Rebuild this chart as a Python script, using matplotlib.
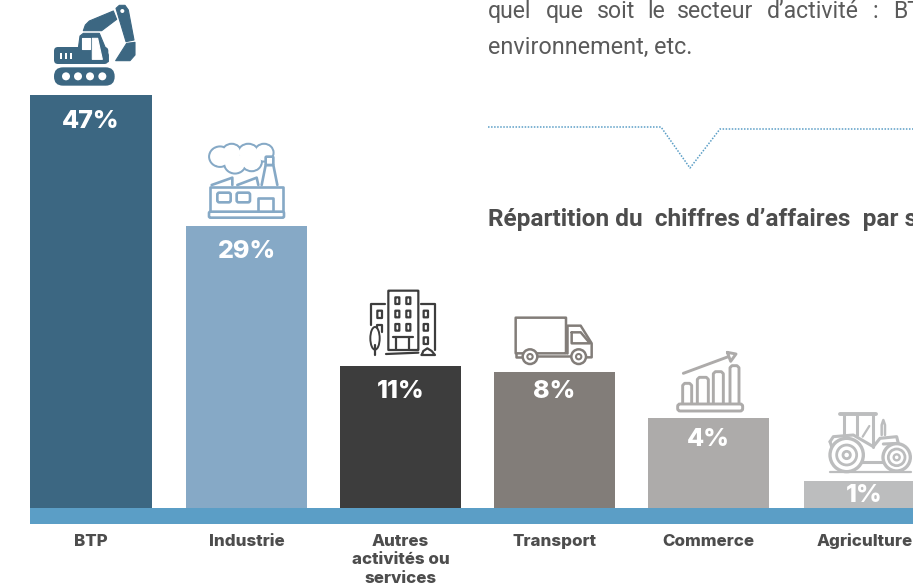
import matplotlib
matplotlib.use('Agg')
import matplotlib.pyplot as plt
from matplotlib.patches import Circle, Ellipse, FancyBboxPatch, Polygon, Rectangle

categories = ['BTP', 'Industrie', 'Autres\nactivités ou\nservices', 'Transport', 'Commerce', 'Agriculture']
shares = [47, 29, 11, 8, 4, 1]
# bars are not proportional in the original, so the drawn heights are read separately
bar_heights = [413, 282, 142, 136, 90, 27]
bar_centers = [91, 246.5, 400.5, 554.5, 708.5, 864.5]
label_offsets = [26, 25, 26, 20, 21, 15]
colors = ['#3c6782', '#86a9c6', '#3d3d3d', '#827d79', '#adabaa', '#bcbdbe']
line1_words = ['quel', 'que', 'soit', 'le', 'secteur', 'd’activité', ':', 'BTP,']
line1_x = [488, 546, 597, 647, 677, 767, 873, 893]

BASE = 508
BAND = '#5b9ec6'
TEXT = '#4d4d4d'
BODY = '#5a5a5a'

fig = plt.figure(figsize=(9.13, 5.87), dpi=100)
ax = fig.add_axes([0, 0, 1, 1])
ax.set_xlim(0, 913)
ax.set_ylim(587, 0)
ax.axis('off')


def line(pts, color, lw=1.6, ox=0, oy=0):
    # icon coordinates come from 3x crops, hence the /3
    ax.plot([ox + p[0] / 3 for p in pts], [oy + p[1] / 3 for p in pts], color=color, lw=lw,
            solid_capstyle='round', solid_joinstyle='round', zorder=4)


def box(x0, y0, x1, y1, color, ox=0, oy=0, lw=1.6, fill='white', r=1.0):
    ax.add_patch(FancyBboxPatch((ox + x0 / 3, oy + y0 / 3), (x1 - x0) / 3, (y1 - y0) / 3,
                                boxstyle=f'round,pad=0,rounding_size={r}', fc=fill, ec=color, lw=lw, zorder=4))


def poly(pts, color, ox=0, oy=0):
    ax.add_patch(Polygon([(ox + p[0] / 3, oy + p[1] / 3) for p in pts], closed=True, fc=color, ec=color,
                         lw=0.8, joinstyle='round', zorder=4))


def ring(x, y, r, color, ox=0, oy=0, lw=1.6, fill='white'):
    ax.add_patch(Circle((ox + x / 3, oy + y / 3), r / 3, fc=fill, ec=color, lw=lw, zorder=5))


def excavator(c):
    box(162, 202, 344, 257, c, fill=c, lw=0, r=9)
    for x in [198, 234, 270, 307]:
        ring(x, 229, 12, 'white', lw=0)
    box(162, 141, 325, 192, c, fill=c, lw=0, r=4)
    poly([(235, 145), (240, 108), (250, 100), (298, 100), (325, 165), (325, 185), (235, 185)], c)
    poly([(245, 115), (270, 115), (270, 148), (245, 148)], 'white')
    poly([(277, 115), (293, 115), (307, 178), (277, 178)], 'white')
    for x in [183, 198, 214]:
        ax.add_patch(Rectangle((x / 3 - 1, 158 / 3), 2, 20 / 3, fc='white', ec='none', zorder=5))
    poly([(250, 92), (256, 75), (268, 63), (340, 33), (350, 58), (305, 92)], c)
    poly([(348, 25), (358, 16), (375, 16), (385, 30), (402, 120), (378, 125)], c)
    ring(367, 33, 6, 'white', lw=0)
    poly([(380, 130), (405, 127), (405, 165), (390, 182), (347, 182)], c)


def factory(c):
    lobes = [(660, 470, 32, 30), (695, 458, 28, 26), (745, 458, 30, 26),
             (792, 458, 28, 26), (705, 490, 32, 30), (755, 485, 30, 28)]
    for x, y, rx, ry in lobes:
        ax.add_patch(Ellipse((x / 3, y / 3), 2 * rx / 3, 2 * ry / 3, fc='white', ec=c, lw=1.8, zorder=3))
    for x, y, rx, ry in lobes:
        ax.add_patch(Ellipse((x / 3, y / 3), 2 * rx / 3 - 1.6, 2 * ry / 3 - 1.6, fc='white', ec='none', zorder=3.1))
    line([(785, 555), (797, 495), (820, 495), (832, 555)], c, 1.9)
    box(797, 470, 820, 495, c, lw=1.9)
    line([(630, 635), (630, 560), (848, 560), (848, 635)], c, 1.9)
    line([(635, 555), (697, 533), (697, 555)], c, 1.9)
    line([(712, 555), (770, 533), (775, 555)], c, 1.9)
    box(652, 578, 692, 607, c, lw=1.9, r=2)
    box(710, 578, 750, 607, c, lw=1.9, r=2)
    line([(775, 635), (775, 595), (820, 595), (820, 635)], c, 1.9)
    box(627, 635, 852, 653, c, lw=1.9, r=1.5)


def buildings(c):
    o = (340, 270)
    box(145, 62, 235, 240, c, *o, r=0.4)
    for x in [172, 205]:
        for y in [92, 132, 172]:
            box(x - 6, y - 10, x + 6, y + 10, c, *o, r=0.3)
    line([(158, 202), (220, 202)], c, 1.6, *o)
    line([(168, 202), (168, 238)], c, 1.6, *o)
    line([(207, 202), (207, 238)], c, 1.6, *o)
    line([(92, 165), (92, 103), (135, 103)], c, 1.6, *o)
    box(112, 122, 126, 144, c, *o, r=0.3)
    line([(112, 180), (112, 165), (126, 165), (126, 185)], c, 1.6, *o)
    line([(242, 103), (285, 103), (285, 240)], c, 1.6, *o)
    for y in [132, 172, 212]:
        box(251, y - 10, 264, y + 10, c, *o, r=0.3)
    ax.add_patch(Ellipse((o[0] + 105 / 3, o[1] + 205 / 3), 28 / 3, 68 / 3, fc='white', ec=c, lw=1.4, zorder=4))
    line([(105, 225), (105, 255)], c, 1.6, *o)
    line([(138, 252), (235, 248)], c, 1.6, *o)
    line([(245, 255), (250, 243), (262, 235), (275, 243), (285, 255), (245, 255)], c, 1.6, *o)


def truck(c):
    o = (340, 270)
    box(527, 143, 678, 250, c, *o, lw=1.8, r=0.3)
    line([(527, 250), (527, 262), (548, 262)], c, 1.8, *o)
    line([(592, 258), (692, 258)], c, 1.8, *o)
    line([(682, 167), (722, 167), (755, 220), (755, 262), (738, 262)], c, 1.8, *o)
    line([(682, 167), (682, 250)], c, 1.8, *o)
    line([(695, 187), (722, 187), (750, 220), (695, 220), (695, 187)], c, 1.8, *o)
    for x in [570, 716]:
        ring(x, 260, 22, c, *o, lw=1.8)
        ring(x, 260, 8, c, *o, lw=1.5)


def growth(c):
    o = (640, 340)
    for x0, x1, top in [(128, 155, 130), (172, 205, 112), (220, 250, 95), (270, 297, 77)]:
        line([(x0, 192), (x0, top + 6), (x0 + 6, top), (x1 - 6, top), (x1, top + 6), (x1, 192)], c, 2.1, *o)
    box(113, 192, 308, 213, c, *o, lw=2.1, r=2.5)
    line([(130, 100), (265, 50)], c, 2.1, *o)
    line([(262, 37), (288, 42), (272, 64), (262, 37)], c, 2.1, *o)


def tractor(c):
    o = (640, 340)
    line([(600, 222), (708, 222)], c, 2.8, *o)
    line([(612, 225), (612, 285)], c, 2.2, *o)
    line([(650, 225), (650, 285)], c, 2.2, *o)
    line([(700, 225), (700, 320)], c, 2.2, *o)
    line([(668, 290), (688, 258)], c, 1.6, *o)
    line([(570, 305), (580, 290), (640, 285), (700, 320), (720, 295), (770, 290), (775, 310), (730, 312)], c, 2.2, *o)
    line([(570, 305), (575, 320)], c, 2.2, *o)
    line([(725, 285), (725, 255), (730, 240), (735, 255), (735, 285)], c, 1.8, *o)
    line([(665, 365), (730, 365)], c, 2.2, *o)
    ring(620, 345, 50, c, *o, lw=2.4)
    ring(620, 345, 30, c, *o, lw=2)
    ring(620, 345, 11, c, *o, lw=2)
    ring(770, 352, 41, c, *o, lw=2.4)
    ring(770, 352, 25, c, *o, lw=2)
    ring(770, 352, 9, c, *o, lw=1.7)
    line([(570, 397), (812, 397)], c, 1.6, *o)


# bars and bottom band
tops = [BASE - h for h in bar_heights]
ax.bar(bar_centers, bar_heights, bottom=tops, width=121.5, color=colors, zorder=2)
ax.add_patch(Rectangle((30, BASE), 883, 16, fc=BAND, ec='none', zorder=3))

for x, top, off, share in zip(bar_centers, tops, label_offsets, shares):
    ax.text(x, top + off, f'{share}%', color='white', ha='center', va='center', fontsize=18,
            family='Inter', fontweight='heavy', zorder=6)

# each line on its own baseline, va='top' shifts with the glyphs of the word
for x, label in zip(bar_centers, categories):
    for i, part in enumerate(label.split('\n')):
        ax.text(x, 546 + i * 18.5, part, color=TEXT, ha='center', va='baseline', fontsize=12.2,
                family='Inter', fontweight='heavy', zorder=6)

excavator(colors[0])
factory(colors[1])
buildings(colors[2])
truck(colors[3])
growth(colors[4])
tractor(colors[5])

# text block on the right
for x, word in zip(line1_x, line1_words):
    ax.text(x, 18, word, color=BODY, fontsize=16.6, family='Roboto', va='baseline', ha='left', clip_on=True)
ax.text(488, 54, 'environnement, etc.', color=BODY, fontsize=16.8, family='Roboto', va='baseline')
ax.text(488, 226, 'Répartition du  chiffres d’affaires  par secteur', color=TEXT, fontsize=17.6,
        family='Roboto', fontweight='bold', va='baseline', clip_on=True)

ax.plot([488, 661, 690, 720, 913], [127, 127, 168, 129, 129], color=BAND, lw=1.1, ls=(0, (1, 1)))

fig.savefig('out.png', dpi=100)
